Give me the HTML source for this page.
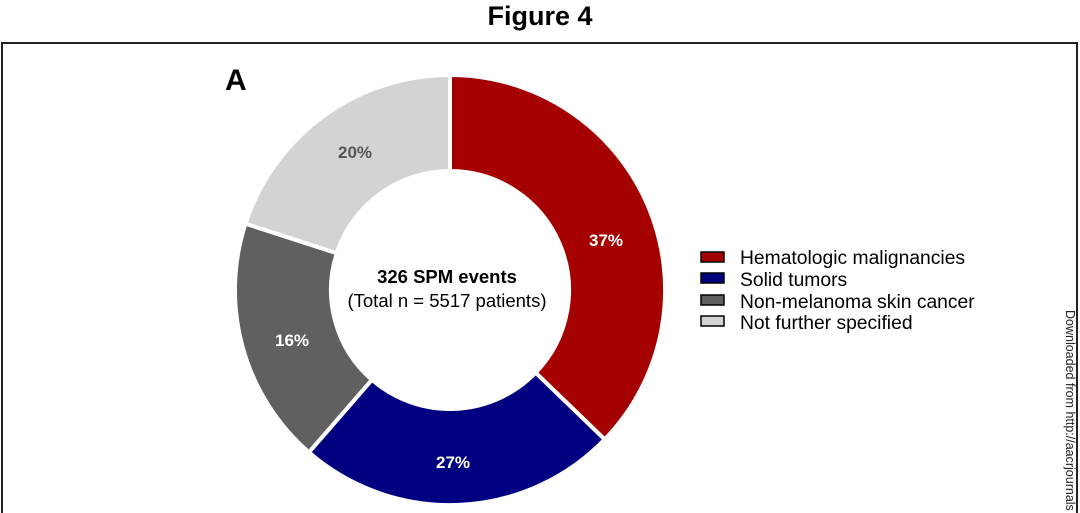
<!DOCTYPE html>
<html><head><meta charset="utf-8"><style>
body{margin:0;background:#fff;width:1080px;height:513px;overflow:hidden}
svg{display:block;font-family:"Liberation Sans",Arial,sans-serif}
</style></head><body>
<svg width="1080" height="513" viewBox="0 0 1080 513">
<text x="540" y="25" text-anchor="middle" font-size="27" font-weight="bold" fill="#000">Figure 4</text>
<path d="M2 513 V43 H1077 V513" fill="none" stroke="#222" stroke-width="2"/>
<text x="225" y="90" font-size="30" font-weight="bold" fill="#000">A</text>
<g stroke="#fff" stroke-width="4" stroke-linejoin="miter">
<path d="M450 75 A215 215 0 0 1 604.7 439.4 L535.6 372.7 A119 119 0 0 0 450 171 Z" fill="#a50000"/>
<path d="M604.7 439.4 A215 215 0 0 1 308.9 452.3 L371.9 379.8 A119 119 0 0 0 535.6 372.7 Z" fill="#000080"/>
<path d="M308.9 452.3 A215 215 0 0 1 245.5 223.6 L336.8 253.2 A119 119 0 0 0 371.9 379.8 Z" fill="#606060"/>
<path d="M245.5 223.6 A215 215 0 0 1 450 75 L450 171 A119 119 0 0 0 336.8 253.2 Z" fill="#d3d3d3"/>
</g>
<g font-size="17" font-weight="bold" text-anchor="middle">
<text x="606" y="246" fill="#fff">37%</text>
<text x="453" y="468" fill="#fff">27%</text>
<text x="292" y="346" fill="#fff">16%</text>
<text x="355" y="158" fill="#555">20%</text>
</g>
<text x="447" y="283" text-anchor="middle" font-size="18.5" font-weight="bold" fill="#000">326 SPM events</text>
<text x="447" y="307" text-anchor="middle" font-size="18.5" fill="#000">(Total n = 5517 patients)</text>
<g stroke="#000" stroke-width="1.5">
<rect x="701" y="252" width="23" height="10" fill="#a50000"/>
<rect x="701" y="273" width="23" height="10" fill="#000080"/>
<rect x="701" y="295" width="23" height="10" fill="#606060"/>
<rect x="701" y="316" width="23" height="10" fill="#d3d3d3"/>
</g>
<g font-size="19.3" fill="#000">
<text x="740" y="264">Hematologic malignancies</text>
<text x="740" y="286">Solid tumors</text>
<text x="740" y="308">Non-melanoma skin cancer</text>
<text x="740" y="329">Not further specified</text>
</g>
<text transform="translate(1066,310) rotate(90)" font-size="12.5" fill="#222">Downloaded from http://aacrjournals</text>
</svg>
</body></html>
